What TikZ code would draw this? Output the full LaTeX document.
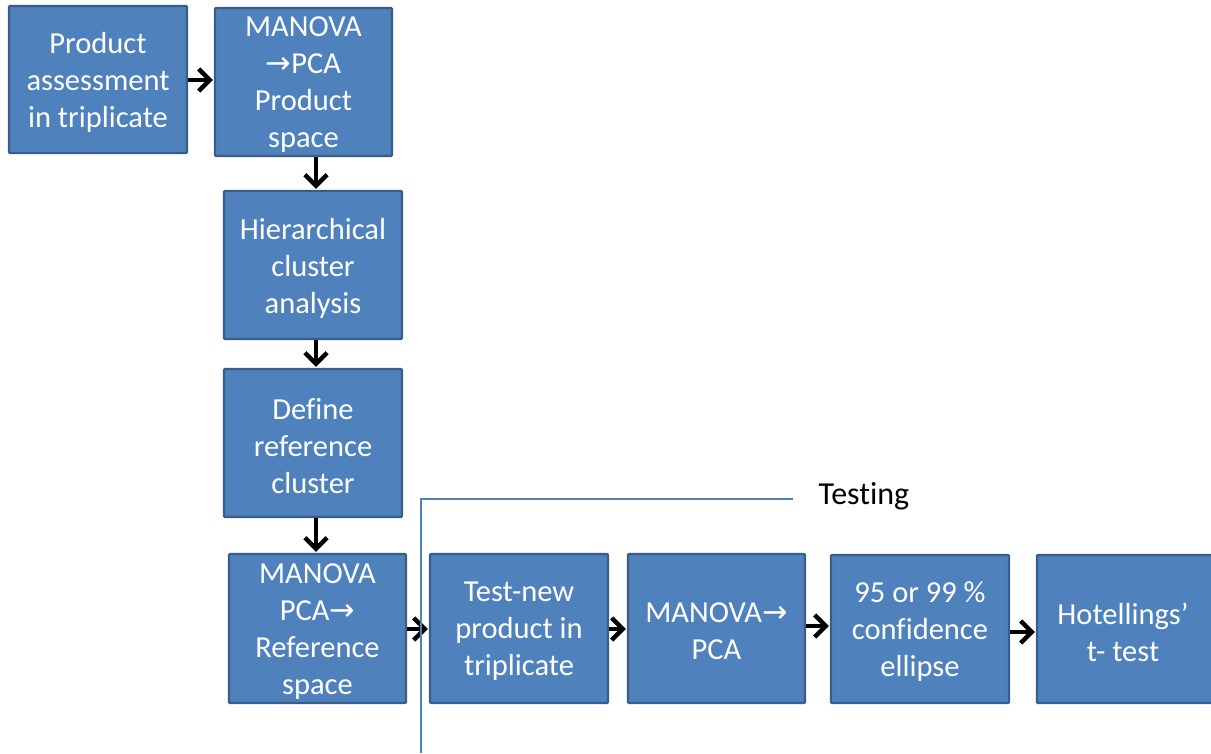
\documentclass[tikz,border=0pt]{standalone}
\usepackage{fontspec}
\setmainfont{Carlito}[Ligatures={NoCommon}]
\newfontfamily\symfont{DejaVu Sans}
\usetikzlibrary{arrows.meta}
\definecolor{boxfill}{HTML}{4F81BD}
\definecolor{boxline}{HTML}{385D8A}
\newcommand{\ra}{{\symfont\char"2192}}
\begin{document}
\begin{tikzpicture}[x=1pt,y=-1pt,
  box/.style={draw=boxline,line width=2.2pt,fill=boxfill,rounded corners=1pt,inner sep=0pt},
  txt/.style={text=white,align=center,inner sep=0pt,font=\fontsize{30.5}{37}\selectfont},
  arr/.style={line width=4.5pt,black,-{Straight Barb[length=11pt,width=22pt,line width=4.5pt]},shorten >=1pt}]
\useasboundingbox (0,0) rectangle (1211,753);
\begin{scope}
\clip (0,0) rectangle (1211,753);
\node[box,minimum width=178pt,minimum height=147pt] (b1) at (98,79.5) {};
\node[box,minimum width=177pt,minimum height=148pt] (b2) at (303.5,82) {};
\node[box,minimum width=178pt,minimum height=148pt] (b3) at (313,265) {};
\node[box,minimum width=178pt,minimum height=148pt] (b4) at (313,443) {};
\node[box,minimum width=177pt,minimum height=149pt] (b5) at (317.5,628.5) {};
\node[box,minimum width=178pt,minimum height=149pt] (b6) at (519,628.5) {};
\node[box,minimum width=177pt,minimum height=149pt] (b7) at (716.5,628.5) {};
\node[box,minimum width=178pt,minimum height=148pt] (b8) at (920,629) {};
\node[box,minimum width=178pt,minimum height=148pt] (b9) at (1126,629) {};
\end{scope}
\node[txt] (t1) at ([yshift=-3pt]b1.center) {Product\\assessment\\in triplicate};
\node[txt] (t2) at ([yshift=-3pt]b2.center) {MANOVA\\\ra PCA\\Product\\space};
\node[txt] (t3) at ([yshift=-3pt]b3.center) {Hierarchical\\cluster\\analysis};
\node[txt] (t4) at ([yshift=-3pt]b4.center) {Define\\reference\\cluster};
\node[txt] (t5) at ([yshift=-3pt]b5.center) {MANOVA\\PCA\ra\\Reference\\space};
\node[txt] (t6) at ([yshift=-3pt]b6.center) {Test-new\\product in\\triplicate};
\node[txt] (t7) at ([yshift=-3pt]b7.center) {MANOVA\ra\\PCA};
\node[txt] (t8) at ([yshift=-3pt]b8.center) {95 or 99 \%\\confidence\\ellipse};
\node[txt] (t9) at ([yshift=-3pt,xshift=-3pt]b9.center) {Hotellings'\\t- test};
\coordinate (a1) at (0,80);
\draw[arr] (b1.east |- a1) -- (b2.west |- a1);
\coordinate (a2) at (316,0);
\draw[arr] (a2 |- b2.south) -- (a2 |- b3.north);
\draw[arr] (a2 |- b3.south) -- (a2 |- b4.north);
\draw[arr] (a2 |- b4.south) -- (a2 |- b5.north);
\coordinate (a5) at (0,629);
\draw[arr] (b5.east |- a5) -- (b6.west |- a5);
\draw[arr] (b6.east |- a5) -- (b7.west |- a5);
\coordinate (a7) at (0,626);
\draw[arr] (b7.east |- a7) -- (b8.west |- a7);
\coordinate (a8) at (0,632);
\draw[arr] (b8.east |- a8) -- (b9.west |- a8);
\coordinate (l0) at (421,753);
\coordinate (l1) at (421,499);
\coordinate (l2) at (793,499);
\draw[boxfill,line width=1.2pt] (l0) -- (l1) -- (l2);
\node[font=\fontsize{32}{36}\selectfont,anchor=west] (test) at (815,496) {Testing};
\end{tikzpicture}
\end{document}
